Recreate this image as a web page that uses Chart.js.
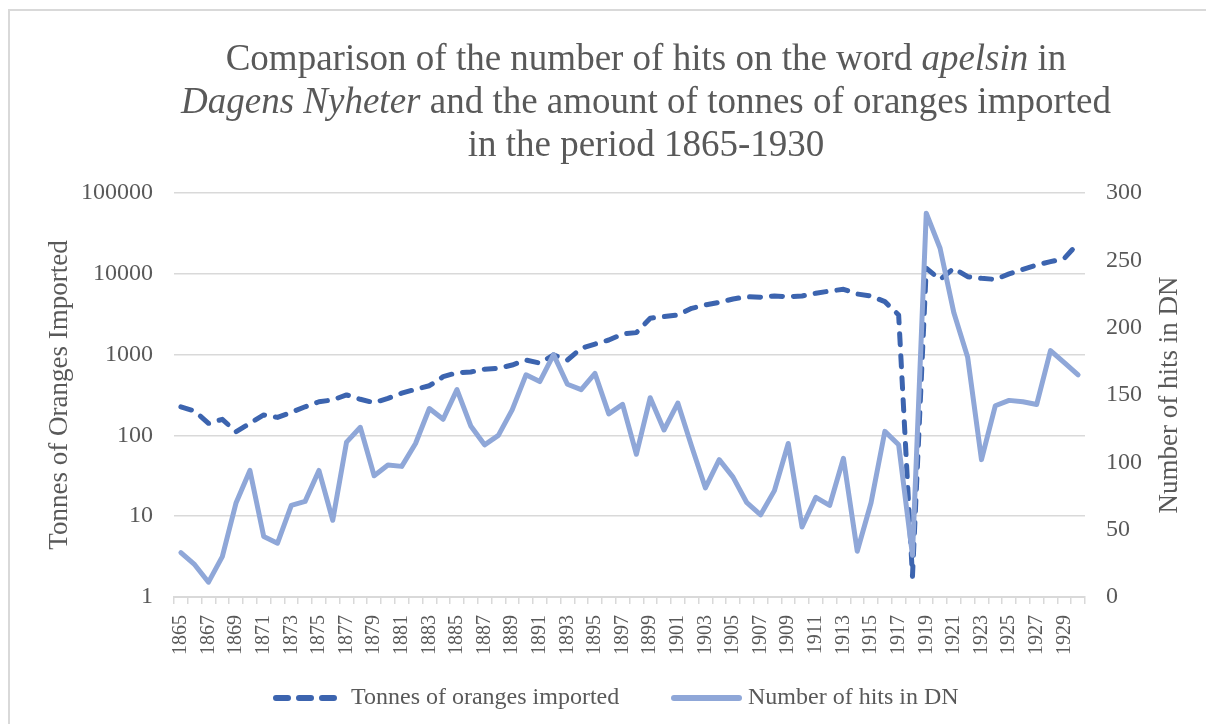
<!DOCTYPE html>
<html>
<head>
<meta charset="utf-8">
<script src="https://cdn.jsdelivr.net/npm/chart.js@4.4.1/dist/chart.umd.min.js"></script>
<style>
  body { margin: 0; background: #fff; }
  canvas { display: block; }
</style>
</head>
<body>
<canvas id="myChart" width="1206" height="724"></canvas>
<script>
var years = [];
for (var y = 1865; y <= 1930; y++) years.push(String(y));

// tonnes of oranges imported (left, log axis)
var tonnes = [226, 200, 141, 158, 111, 141, 179, 167, 193, 226,
  261, 275, 317, 280, 254, 288, 333, 372, 412, 533,
  597, 610, 658, 677, 743, 856, 784, 990, 856, 1197,
  1350, 1516, 1800, 1870, 2820, 2950, 3090, 3740, 4110, 4440,
  4880, 5210, 5130, 5310, 5210, 5310, 5740, 6120, 6430, 5620,
  5310, 4520, 3090, 1.8, 11700, 8520, 11700, 9200, 8790, 8520,
  9970, 11350, 12850, 14130, 15500, 23850]

// number of hits on "apelsin" in DN (right axis)
var hits = [33, 24, 11, 30, 70, 94, 45, 40, 68, 71,
  94, 57, 115, 126, 90, 98, 97, 114, 140, 132,
  154, 127, 113, 120, 139, 165, 160, 180, 158, 154,
  166, 136, 143, 106, 148, 124, 144, 112, 81, 102,
  89, 70, 61, 79, 114, 52, 74, 68, 103, 34,
  70, 123, 113, 31, 285, 259, 211, 178, 102, 142,
  146, 145, 143, 183, 174, 165]

var logTicks = [1, 10, 100, 1000, 10000, 100000]

var titleLines = [
  [['Comparison of the number of hits on the word ', false], ['apelsin', true], [' in', false]],
  [['Dagens Nyheter', true], [' and the amount of tonnes of oranges imported', false]],
  [['in the period 1865-1930', false]]
]

var grey = '#595959'
var serif = "'Liberation Serif', 'Times New Roman', serif"
var dark = '#3c64af'
var light = '#8fa7d8'

var decor = {
  id: 'decor',
  beforeDraw: function(chart) {
    var c = chart.ctx
    c.save()
    c.fillStyle = '#fff'
    c.fillRect(0, 0, chart.width, chart.height)
    c.strokeStyle = '#d9d9d9'
    c.lineWidth = 2
    c.strokeRect(9, 10, 1300, 900)
    c.restore()
  },
  afterDraw: function(chart) {
    var c = chart.ctx
    var area = chart.chartArea
    c.save()
    c.fillStyle = grey
    c.textBaseline = 'middle'
    // title, with italic parts
    var ys = [60, 103, 146]
    titleLines.forEach(function(line, i) {
      var total = 0
      line.forEach(function(p) {
        c.font = (p[1] ? 'italic ' : '') + '37px ' + serif
        total += c.measureText(p[0]).width
      })
      var x = 646 - total / 2
      line.forEach(function(p) {
        c.font = (p[1] ? 'italic ' : '') + '37px ' + serif
        c.textAlign = 'left'
        c.fillText(p[0], x, ys[i])
        x += c.measureText(p[0]).width
      })
    })

    // legend
    var ly = 698
    c.lineCap = 'round'
    c.lineWidth = 6
    c.strokeStyle = dark
    c.setLineDash([12, 11])
    c.beginPath(); c.moveTo(276, ly); c.lineTo(336, ly); c.stroke()
    c.setLineDash([])
    c.strokeStyle = light
    c.beginPath(); c.moveTo(674, ly); c.lineTo(739, ly); c.stroke()
    c.font = '24px ' + serif
    c.textAlign = 'left'
    c.fillText(chart.data.datasets[0].label, 351, ly)
    c.fillText(chart.data.datasets[1].label, 748, ly)

    // axis titles, both read bottom to top
    var midY = (area.top + area.bottom) / 2
    c.font = '27px ' + serif
    c.textAlign = 'center'
    c.translate(60, midY)
    c.rotate(-Math.PI / 2)
    c.fillText('Tonnes of Oranges Imported', 0, 0)
    c.rotate(Math.PI / 2)
    c.translate(1170 - 60, 0)
    c.rotate(-Math.PI / 2)
    c.fillText('Number of hits in DN', 0, 0)
    c.restore()
  }
}

document.addEventListener('DOMContentLoaded', function() {
  var ctx = document.getElementById('myChart').getContext('2d')
  var chart = new Chart(ctx, {
    type: 'line',
    data: {
      labels: years,
      datasets: [{
        label: 'Tonnes of oranges imported',
        data: tonnes,
        yAxisID: 'y',
        borderColor: dark,
        backgroundColor: dark,
        borderWidth: 5,
        borderDash: [11, 11],
        borderCapStyle: 'round',
        borderJoinStyle: 'round',
        pointRadius: 0,
        tension: 0,
        order: 1
      }, {
        label: 'Number of hits in DN',
        data: hits,
        yAxisID: 'y1',
        borderColor: light,
        backgroundColor: light,
        borderWidth: 5,
        borderCapStyle: 'round',
        borderJoinStyle: 'round',
        pointRadius: 0,
        tension: 0,
        order: 0
      }]
    },
    options: {
      responsive: false,
      animation: false,
      layout: { padding: { top: 193, left: 0, right: 0, bottom: 63 } },
      scales: {
        x: {
          type: 'category',
          offset: true,
          grid: { offset: true, drawOnChartArea: false, drawTicks: true, tickLength: 7, color: '#d9d9d9', lineWidth: 1.5 },
          border: { display: true, color: '#d9d9d9', width: 2 },
          ticks: {
            autoSkip: false, minRotation: 90, maxRotation: 90, padding: 11,
            color: grey, font: { family: serif, size: 20 },
            callback: function(v, i) { return i % 2 === 0 ? years[i] : '' }
          },
          afterFit: function(s) { s.height = 64 }
        },
        y: {
          type: 'logarithmic',
          position: 'left',
          min: 1, max: 100000,
          grid: { color: '#d9d9d9', lineWidth: 1.5, drawTicks: false },
          border: { display: false },
          ticks: {
            padding: 21, color: grey, font: { family: serif, size: 24 },
            callback: function(v) { return String(v) }
          },
          afterBuildTicks: function(s) {
            s.ticks = logTicks.map(function(v) { return { value: v } })
          },
          afterFit: function(s) { s.width = 174 }
        },
        y1: {
          position: 'right',
          min: 0, max: 300,
          grid: { display: false, drawTicks: false },
          border: { display: false },
          ticks: { stepSize: 50, padding: 21, color: grey, font: { family: serif, size: 24 } },
          afterFit: function(s) { s.width = 121 }
        }
      },
      plugins: {
        title: { display: false },
        tooltip: { enabled: false },
        legend: { display: false }
      }
    },
    plugins: [decor]
  })
})
</script>
</body>
</html>
